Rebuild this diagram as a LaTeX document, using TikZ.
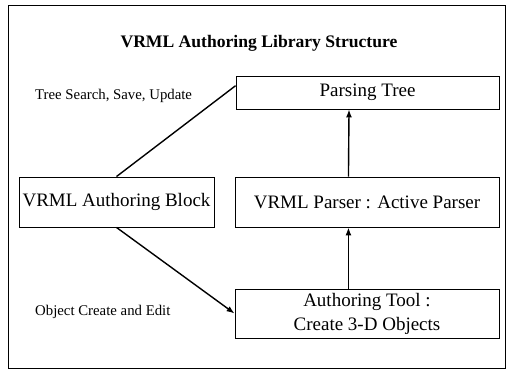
\documentclass[tikz,border=0pt]{standalone}
\usepackage{fontspec}
\setmainfont{Liberation Serif}
\usetikzlibrary{arrows.meta,calc}
\begin{document}
\begin{tikzpicture}[x=1pt,y=-1pt,
  box/.style={draw,line width=0.9pt,inner sep=0pt,font=\fontsize{19pt}{22pt}\selectfont,align=center},
  lbl/.style={anchor=west,inner sep=0pt,font=\fontsize{14.8pt}{17pt}\selectfont},
  conn/.style={line width=1.4pt},
  arr/.style={line width=1.4pt,-{Latex[length=8pt,width=6pt]}}]
\useasboundingbox (0,0) rectangle (512,375);
\draw[line width=0.8pt] (8,5) rectangle (505,368);
\node[font=\fontsize{17.6pt}{20pt}\selectfont\bfseries] (title) at (259,43) {VRML Authoring Library Structure};
\node[box,minimum width=263pt,minimum height=33pt] (pt) at (367.5,92.5) {Parsing Tree};
\node[box,minimum width=264pt,minimum height=50pt] (vp) at (367,202) {VRML Parser : Active Parser};
\node[box,minimum width=195pt,minimum height=50pt] (ab) at (116.5,202) {VRML Authoring Block};
\node[box,minimum width=264pt,minimum height=49pt,font=\fontsize{19pt}{24pt}\selectfont] (at) at (367,313.5) {Authoring Tool :\\Create 3-D Objects};
\node[lbl] (l1) at (35,96) {Tree Search, Save, Update};
\node[lbl] (l2) at (35,312) {Object Create and Edit};
\draw[conn] (ab.north) -- ($(pt.north west)!0.3!(pt.south west)$);
\draw[arr] (ab.south) -- (at.west);
\draw[arr] ($(vp.north west)!0.43!(vp.north east)$) -- ($(pt.south west)!0.43!(pt.south east)$);
\draw[arr] ($(at.north west)!0.43!(at.north east)$) -- ($(vp.south west)!0.43!(vp.south east)$);
\end{tikzpicture}
\end{document}
